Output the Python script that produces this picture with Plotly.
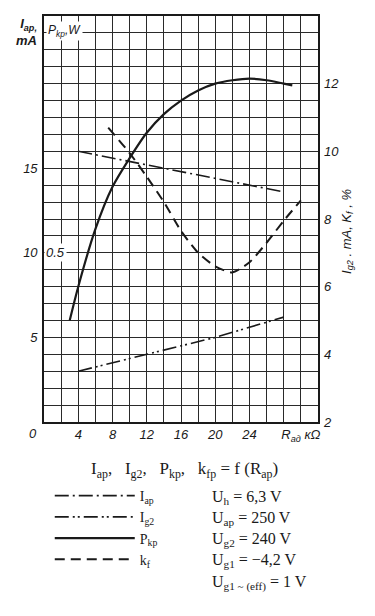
import plotly.graph_objects as go

# ---- data ----
# P_kp (W) vs R_ap (kOhm)
p_x = [3, 4, 6, 8, 10, 12, 14, 16, 18, 20, 22, 24, 26, 28, 29]
p_w = [0.30, 0.40, 0.57, 0.695, 0.78, 0.855, 0.91, 0.95, 0.98, 1.0, 1.01, 1.015, 1.01, 1.0, 0.995]
# I_ap (mA)
iap_x = [4, 10, 16, 22, 28]
iap_ma = [16.0, 15.4, 14.8, 14.2, 13.6]
# I_g2 (mA)
ig2_x = [4, 12, 20, 28]
ig2_ma = [3.5, 4.0, 4.5, 5.1]
# k_f (%)
kf_x = [7.5, 10, 12, 14, 16, 18, 20, 22, 24, 26, 28, 30]
kf_pct = [10.7, 9.95, 9.25, 8.5, 7.65, 7.0, 6.6, 6.42, 6.72, 7.3, 7.95, 8.55]

x_tickvals = [4, 8, 12, 16, 20, 24, 30]
x_ticktext = ["4", "8", "12", "16", "20", "24", "R<sub>aд</sub> кΩ"]
yl_tickvals = [5, 10, 15]
yl_ticktext = ["5", "10", "15"]
yr_ticks = [2, 4, 6, 8, 10, 12]

INK = "#1a1a1a"
GRID = "#2a2a2a"
SANS = "Liberation Sans"
SERIF = "Liberation Serif"
NB = "\u00a0"

fig = go.Figure()
fig.add_trace(go.Scatter(x=iap_x, y=iap_ma, mode="lines", name="I<sub>ap</sub>",
                         line=dict(color=INK, width=1.6, dash="14px,4px,2px,4px"), yaxis="y"))
fig.add_trace(go.Scatter(x=ig2_x, y=ig2_ma, mode="lines", name="I<sub>g2</sub>",
                         line=dict(color=INK, width=1.6, dash="14px,4px,2px,3px,2px,4px"), yaxis="y2"))
fig.add_trace(go.Scatter(x=p_x, y=p_w, mode="lines", name="P<sub>kp</sub>",
                         line=dict(color=INK, width=2.2, shape="spline", smoothing=0.8), yaxis="y3"))
fig.add_trace(go.Scatter(x=kf_x, y=kf_pct, mode="lines", name="k<sub>f</sub>",
                         line=dict(color=INK, width=2.0, dash="10px,6px", shape="spline", smoothing=0.6),
                         yaxis="y2"))

tickfont = dict(family=SANS, size=13, color=INK, style="italic")

# the page body adds an 8 px margin, so the figure is 8 px smaller and shifted
fig.update_layout(
    width=359, height=600,
    margin=dict(l=36, r=49, t=8, b=186, autoexpand=False),
    paper_bgcolor="white", plot_bgcolor="white",
    showlegend=True,
    legend=dict(x=0.021, y=-0.143, xanchor="left", yanchor="top",
                font=dict(family=SERIF, size=14, color=INK),
                itemwidth=80, tracegroupgap=0, bgcolor="rgba(0,0,0,0)"),
    xaxis=dict(range=[0, 32], tickmode="array", tickvals=x_tickvals, ticktext=x_ticktext,
               showgrid=True, gridcolor=GRID, gridwidth=1.2, zeroline=False,
               minor=dict(tickmode="linear", tick0=0, dtick=2, showgrid=True,
                          gridcolor=GRID, gridwidth=1.2, ticks=""),
               showline=True, linecolor=INK, linewidth=1.6, mirror=True,
               ticks="", tickfont=tickfont, fixedrange=True, automargin=False),
    yaxis=dict(range=[0, 24], tickmode="array", tickvals=yl_tickvals, ticktext=yl_ticktext,
               showgrid=True, gridcolor=GRID, gridwidth=1.2, zeroline=False,
               minor=dict(tickmode="linear", tick0=0, dtick=1, showgrid=True,
                          gridcolor=GRID, gridwidth=1.2, ticks=""),
               showline=True, linecolor=INK, linewidth=1.6, mirror=True,
               ticks="", tickfont=tickfont, ticklabelstandoff=2, automargin=False),
    yaxis2=dict(range=[2, 14], overlaying="y", side="right", tickmode="array",
                tickvals=yr_ticks, ticktext=[str(v) for v in yr_ticks],
                showgrid=False, zeroline=False, showline=False, ticks="",
                tickfont=tickfont, ticklabelstandoff=5, automargin=False),
    yaxis3=dict(range=[0, 1.2], overlaying="y", visible=False, automargin=False),
)

def ann(text, x, y, xref="paper", yref="paper", **kw):
    fig.add_annotation(text=text, x=x, y=y, xref=xref, yref=yref, showarrow=False, **kw)

# axis labels inside / around the plot
ann("<b>I<sub>ap,</sub></b><br><b>mA</b>", -0.065, 1.005, xanchor="center", yanchor="top",
    font=dict(family=SANS, size=13, color=INK, style="italic"), align="right")
ann("P<sub>kp</sub>,W", 2.45, 23.1, xref="x", yref="y", xanchor="center", yanchor="middle",
    font=dict(family=SANS, size=12, color=INK, style="italic"), bgcolor="white", borderpad=1)
ann("0.5", 1.3, 10, xref="x", yref="y", xanchor="center", yanchor="middle",
    font=dict(family=SANS, size=13, color=INK, style="italic"), bgcolor="white", borderpad=1)
ann("0", -0.04, -0.028, xanchor="center", yanchor="middle",
    font=dict(family=SANS, size=13, color=INK, style="italic"))
ann("I<sub>g2</sub> . mA, K<sub>f</sub> , %", 1.105, 0.47, xanchor="center", yanchor="middle",
    textangle=-90, font=dict(family=SANS, size=13, color=INK, style="italic"))

# caption below the chart
sep = "," + NB * 3
ann("I<sub>ap</sub>" + sep + "I<sub>g2</sub>" + sep + "P<sub>kp</sub>" + sep +
    "k<sub>fp</sub>" + NB + "=" + NB + "f" + NB + "(R<sub>ap</sub>)",
    0.511, -0.118, xanchor="center", yanchor="middle", font=dict(family=SERIF, size=17, color=INK))
cond = ["U<sub>h</sub> = 6,3 V", "U<sub>ap</sub> = 250 V", "U<sub>g2</sub> = 240 V",
        "U<sub>g1</sub> = −4,2 V", "U<sub>g1 ~ (eff)</sub> = 1 V"]
cond_py = [497, 518, 539, 560, 583]
for t, py in zip(cond, cond_py):
    ann(t, (210 - 44) / 274, (422 - py) / 406, xanchor="left", yanchor="middle",
        font=dict(family=SERIF, size=16, color=INK))

fig.write_html("out.html")
